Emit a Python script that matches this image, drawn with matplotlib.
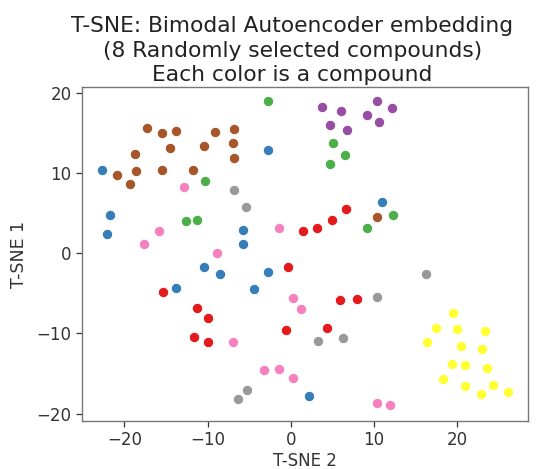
import matplotlib
matplotlib.use("Agg")
import matplotlib.pyplot as plt

# compound colours (Set1-like)
colors = {
    "brown": "#a65628", "blue": "#377eb8", "green": "#4daf4a", "pink": "#f781bf",
    "gray": "#999999", "red": "#e41a1c", "purple": "#984ea3", "yellow": "#ffff33",
}

brown_x = [-17.3, -15.5, -13.8, -9.1, -6.8, -6.9, -6.8, -10.4, -14.5, -18.7, -18.6, -15.5, -11.8, -20.9, -19.3, 10.3]
brown_y = [15.6, 15.0, 15.2, 15.1, 15.5, 13.7, 11.8, 13.3, 13.1, 12.4, 10.2, 10.3, 10.3, 9.7, 8.6, 4.5]

blue_x = [-22.7, -2.7, -21.7, -22.1, -5.7, -5.8, -10.4, -8.5, -2.7, -13.8, -4.4, 2.2, 10.9]
blue_y = [10.3, 12.9, 4.7, 2.4, 2.9, 1.1, -1.7, -2.6, -2.3, -4.3, -4.4, -17.8, 6.4]

green_x = [-2.8, -10.3, -12.6, -11.3, 5.1, 6.5, 4.7, 12.3, 9.1]
green_y = [18.9, 9.0, 4.0, 4.1, 13.7, 12.2, 11.1, 4.8, 3.1]

pink_x = [-12.9, -15.9, -17.7, -1.4, -8.9, 0.2, 1.2, -7.0, -3.2, -1.4, 0.2, 10.3, 11.9]
pink_y = [8.3, 2.8, 1.1, 3.1, 0.0, -5.6, -7.0, -11.1, -14.6, -14.4, -15.5, -18.6, -18.9]

gray_x = [-6.8, -5.4, 16.2, 10.3, 3.3, 6.3, -5.3, -6.3]
gray_y = [7.9, 5.7, -2.6, -5.4, -10.9, -10.6, -17.0, -18.2]

red_x = [1.5, -0.4, 6.6, 4.9, 3.2, -15.4, -11.3, -10.0, -0.6, -11.6, -10.0, 5.9, 8.0, 4.4]
red_y = [2.8, -1.7, 5.5, 4.1, 3.2, -4.8, -6.8, -8.1, -9.6, -10.5, -11.1, -5.8, -5.7, -9.3]

purple_x = [3.8, 6.0, 10.4, 12.2, 9.1, 10.6, 4.7, 6.8]
purple_y = [18.2, 17.7, 18.9, 18.1, 17.2, 16.4, 16.0, 15.3]

yellow_x = [19.5, 17.5, 20.0, 23.3, 16.4, 20.4, 23.0, 19.4, 20.9, 23.6, 18.3, 20.9, 24.3, 22.8, 26.1]
yellow_y = [-7.5, -9.3, -9.4, -9.7, -11.1, -11.5, -11.9, -13.8, -13.9, -14.3, -15.7, -16.5, -16.4, -17.5, -17.3]

series = [
    ("brown", brown_x, brown_y), ("blue", blue_x, blue_y), ("green", green_x, green_y),
    ("pink", pink_x, pink_y), ("gray", gray_x, gray_y), ("red", red_x, red_y),
    ("purple", purple_x, purple_y), ("yellow", yellow_x, yellow_y),
]

title = "T-SNE: Bimodal Autoencoder embedding\n(8 Randomly selected compounds)\nEach color is a compound"
xticks = [-20, -10, 0, 10, 20]
yticks = [-20, -10, 0, 10, 20]

fig = plt.figure(figsize=(5.39, 4.69), dpi=100)
ax = fig.add_axes([82 / 539, 1 - 421 / 469, (528 - 82) / 539, (421 - 87) / 469])

for name, xs, ys in series:
    ax.scatter(xs, ys, s=55, c=colors[name], edgecolors="white", linewidths=0.6, zorder=3)

ax.set_xlim(-25.1, 28.5)
ax.set_ylim(-20.9, 20.7)
ax.set_xticks(xticks)
ax.set_yticks(yticks)
ax.set_xticklabels([f"{t}".replace("-", "\u2212") for t in xticks])
ax.set_yticklabels([f"{t}".replace("-", "\u2212") for t in yticks])
ax.tick_params(labelsize=12, colors="#333333", length=4, width=0.9)
for sp in ax.spines.values():
    sp.set_color("#777777")
    sp.set_linewidth(1.0)

ax.set_xlabel("T-SNE 2", fontsize=12, color="#333333", labelpad=2)
ax.set_ylabel("T-SNE 1", fontsize=12.5, color="#333333", labelpad=6)
ax.set_title(title, fontsize=15.7, color="#222222", linespacing=1.28, pad=4, x=0.472)

fig.savefig("out.png", dpi=100)
